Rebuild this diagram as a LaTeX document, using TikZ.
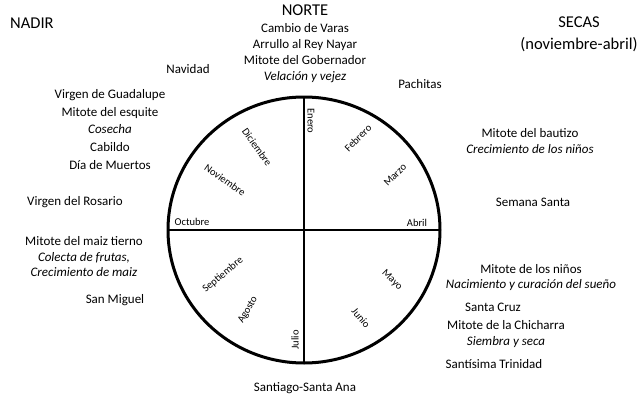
\documentclass[tikz,border=0pt]{standalone}
\usepackage{fontspec}
\setmainfont{Carlito}
\begin{document}
\begin{tikzpicture}[x=1pt,y=-1pt,
	fiesta/.style={align=center,inner sep=0pt,font=\fontsize{13}{16}\selectfont},
	rumbo/.style={align=center,inner sep=0pt,font=\fontsize{16.5}{22}\selectfont},
	mes/.style={inner sep=0pt,font=\fontsize{10.5}{12}\selectfont}]
\useasboundingbox (0,0) rectangle (641,399);
\coordinate (c) at (304,230);
\draw [line width=3pt] (c) ellipse [x radius=136, y radius=133];
\draw [line width=1.6pt] (168,230) -- (440,230);
\draw [line width=1.6pt] (304,97) -- (304,363);
\foreach \m/\x/\y/\a in {Enero/311/121/-90, Febrero/358/138/45, Marzo/395/175/45,
	Abril/417/223/0, Mayo/392/280/-45, Junio/361/318/-50, Julio/295/340/90,
	Agosto/248/310/60, Septiembre/223/275/40, Octubre/192/222/0,
	Noviembre/225/180/-35, Diciembre/257/147/-55}
	\node[mes, rotate=\a] (\m) at (\x,\y) {\m};
\node[rumbo, anchor=west] (nadir) at (10,23) {NADIR};
\node[rumbo] (norte) at (305,10) {NORTE};
\node[rumbo] (secas) at (579,34) {SECAS\\(noviembre-abril)};
\node[fiesta] (varas) at (305,53) {Cambio de Varas\\Arrullo al Rey Nayar\\Mitote del Gobernador\\\textit{Velación y vejez}};
\node[fiesta] (navidad) at (188,69) {Navidad};
\node[fiesta] (pachitas) at (420,84) {Pachitas};
\node[fiesta, font=\fontsize{13}{17.75}\selectfont] (guadalupe) at (110,129.5) {Virgen de Guadalupe\\Mitote del esquite\\\textit{Cosecha}\\Cabildo\\Día de Muertos};
\node[fiesta] (rosario) at (75,202) {Virgen del Rosario};
\node[fiesta, font=\fontsize{13}{15.5}\selectfont] (maiz) at (84,257) {Mitote del maiz tierno\\\textit{Colecta de frutas,}\\\textit{Crecimiento de maiz}};
\node[fiesta] (miguel) at (115,300) {San Miguel};
\node[fiesta] (santiago) at (305,388) {Santiago-Santa Ana};
\node[fiesta] (bautizo) at (530,141) {Mitote del bautizo\\\textit{Crecimiento de los niños}};
\node[fiesta] (semana) at (533,202) {Semana Santa};
\node[fiesta, font=\fontsize{13}{15}\selectfont] (ninos) at (531,277.5) {Mitote de los niños\\\textit{Nacimiento y curación del sueño}};
\node[fiesta] (cruz) at (493,307) {Santa Cruz};
\node[fiesta] (chicharra) at (506,325) {Mitote de la Chicharra};
\node[fiesta] (siembra) at (506,342) {\textit{Siembra y seca}};
\node[fiesta] (trinidad) at (494,364) {Santísima Trinidad};
\end{tikzpicture}
\end{document}
